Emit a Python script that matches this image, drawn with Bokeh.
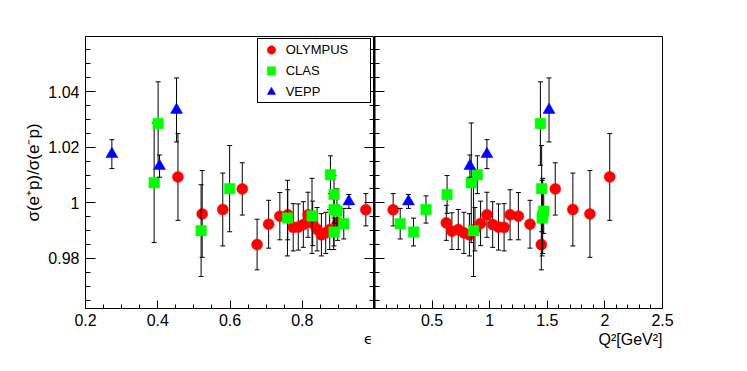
import numpy as np
from bokeh.plotting import figure
from bokeh.layouts import row
from bokeh.models import (ColumnDataSource, FixedTicker, LinearAxis, Range1d,
                          Legend, LegendItem, Title)
from bokeh.embed import file_html
from bokeh.resources import INLINE

# ---------------- data ----------------
oly_q2 = [0.162, 0.623, 0.672, 0.727, 0.776, 0.824, 0.872, 0.921, 0.976, 1.026,
          1.076, 1.125, 1.177, 1.249, 1.350, 1.448, 1.569, 1.722, 1.870, 2.042]
oly_eps = [0.976, 0.898, 0.887, 0.876, 0.865, 0.853, 0.841, 0.829, 0.816, 0.803,
           0.789, 0.775, 0.760, 0.738, 0.707, 0.675, 0.634, 0.580, 0.523, 0.456]
oly_r = [0.9975, 0.9928, 0.9898, 0.9904, 0.9892, 0.9885, 0.9905, 0.9926, 0.9957, 0.9922,
         0.9913, 0.9912, 0.9957, 0.9952, 0.9923, 0.9850, 1.0050, 0.9976, 0.9960, 1.0093]
oly_err = [0.0058, 0.0063, 0.0066, 0.0072, 0.0074, 0.0076, 0.0078, 0.0080, 0.0081, 0.0082,
           0.0083, 0.0085, 0.0090, 0.0085, 0.0086, 0.0091, 0.0094, 0.0131, 0.0156, 0.0156]

clas_eps = [0.390, 0.401, 0.520, 0.599, 0.759, 0.827, 0.878, 0.888, 0.888, 0.896, 0.888, 0.915]
clas_q2 = [0.840, 1.440, 0.860, 1.451, 1.455, 1.460, 0.893, 0.630, 0.447, 1.469, 0.339, 0.223]
clas_r = [1.0072, 1.0285, 0.9900, 1.0051, 0.9945, 0.9953, 1.0101, 1.0030, 0.9976, 0.9970, 0.9895, 0.9925]
clas_err = [0.0215, 0.0150, 0.0165, 0.0155, 0.0136, 0.0135, 0.0068, 0.0068, 0.0049, 0.0080, 0.0050, 0.0055]

vepp_eps = [0.273, 0.405, 0.452, 0.929]
vepp_q2 = [0.976, 0.828, 1.515, 0.295]
vepp_r = [1.0175, 1.0132, 1.0334, 1.0005]
vepp_err = [0.0052, 0.0040, 0.0115, 0.0025]

y_major = [0.98, 1.0, 1.02, 1.04]
y_minor = [round(v, 3) for v in np.arange(0.965, 1.0601, 0.005)]
eps_major = [0.2, 0.4, 0.6, 0.8]
eps_minor = [round(v, 3) for v in np.arange(0.2, 1.0001, 0.05)]
q2_major = [0.5, 1.0, 1.5, 2.0, 2.5]
q2_minor = [round(v, 3) for v in np.arange(0.0, 2.5001, 0.1)]

FONT = "Liberation Sans"
series = [
    ("OLYMPUS", "#ff0000", "circle", 11, oly_eps, oly_q2, oly_r, oly_err),
    ("CLAS", "#00ff00", "square", 10.5, clas_eps, clas_q2, clas_r, clas_err),
    ("VEPP", "#0000ff", "triangle", 12, vepp_eps, vepp_q2, vepp_r, vepp_err),
]

Y0, Y1 = 0.962, 1.0598


def style_y(ax, labels):
    ax.ticker = FixedTicker(ticks=y_major, minor_ticks=y_minor)
    ax.major_tick_in = 10
    ax.major_tick_out = 0
    ax.minor_tick_in = 5
    ax.minor_tick_out = 0
    ax.axis_line_color = "black"
    ax.major_tick_line_color = "black"
    ax.minor_tick_line_color = "black"
    if labels:
        ax.major_label_overrides = {0.98: "0.98", 1.0: "1", 1.02: "1.02", 1.04: "1.04"}
        ax.major_label_text_font = FONT
        ax.major_label_text_font_size = "16px"
        ax.major_label_text_color = "black"
        ax.major_label_standoff = 6
    else:
        ax.major_label_overrides = {v: "" for v in y_major}
        ax.major_label_text_font_size = "0px"
        ax.major_label_standoff = 0


def style_x(ax, major, minor, overrides):
    ax.ticker = FixedTicker(ticks=major, minor_ticks=minor)
    ax.major_tick_in = 8
    ax.major_tick_out = 0
    ax.minor_tick_in = 4
    ax.minor_tick_out = 0
    ax.axis_line_color = "black"
    ax.major_tick_line_color = "black"
    ax.minor_tick_line_color = "black"
    ax.major_label_overrides = overrides
    ax.major_label_text_font = FONT
    ax.major_label_text_font_size = "16px"
    ax.major_label_text_color = "black"
    ax.major_label_standoff = 5


def make_fig(xr, width, bl, br):
    p = figure(width=width, height=363, x_range=xr, y_range=Range1d(Y0, Y1),
               output_backend="svg", toolbar_location=None,
               min_border_left=bl, min_border_right=br, min_border_top=36, min_border_bottom=55)
    p.xgrid.visible = False
    p.ygrid.visible = False
    p.outline_line_color = "black"
    p.outline_line_width = 1
    p.outline_line_alpha = 1
    p.background_fill_color = "white"
    p.border_fill_color = "white"
    return p


p1 = make_fig(Range1d(0.2, 1.0), 374, 85, 0)
p2 = make_fig(Range1d(0.0, 2.5), 365, 0, 77)

style_x(p1.xaxis[0], eps_major, eps_minor, {})
style_x(p2.xaxis[0], q2_major, q2_minor, {1.0: "1", 2.0: "2"})

# x-axis titles, right-aligned at the end of each axis (as in ROOT)
p1.add_layout(Title(text="\u03f5", align="right", offset=2, standoff=0,
                    text_font="DejaVu Sans", text_font_size="14px",
                    text_font_style="normal", text_color="black"), "below")
p2.add_layout(Title(text="Q\u00b2[GeV\u00b2]", align="right", offset=0, standoff=0,
                    text_font=FONT, text_font_size="16px",
                    text_font_style="normal", text_color="black"), "below")

style_y(p1.yaxis[0], True)
p1.yaxis[0].axis_label = "\u03c3(e\u207ap)/\u03c3(e\u207bp)"
p1.yaxis[0].axis_label_text_font = FONT
p1.yaxis[0].axis_label_text_font_size = "17px"
p1.yaxis[0].axis_label_text_font_style = "normal"
p1.yaxis[0].axis_label_text_color = "black"
p1.yaxis[0].axis_label_standoff = 2

rax = LinearAxis()
style_y(rax, False)
p1.add_layout(rax, "right")

style_y(p2.yaxis[0], False)
p2.yaxis[0].axis_line_width = 2

legend_items = []
for name, color, marker, size, eps, q2, r, err in series:
    r_arr = np.array(r)
    e_arr = np.array(err)
    for p, xs in ((p1, eps), (p2, q2)):
        src = ColumnDataSource(dict(x=list(xs), y=list(r_arr), lo=list(r_arr - e_arr),
                                    hi=list(r_arr + e_arr)))
        p.segment(x0="x", y0="lo", x1="x", y1="hi", source=src, line_color="black", line_width=1)
        p.scatter(x="x", y="lo", source=src, marker="dash", size=5, line_color="black", line_width=1)
        p.scatter(x="x", y="hi", source=src, marker="dash", size=5, line_color="black", line_width=1)
        gr = p.scatter(x="x", y="y", source=src, marker=marker, size=size,
                       fill_color=color, line_color=color, line_width=0.5)
        if p is p1:
            legend_items.append(LegendItem(label=name, renderers=[gr]))

# legend anchored by its lower-left corner, in pixels from the frame's lower-left
legend = Legend(items=legend_items, location=(171.7, 205),
                glyph_width=26, glyph_height=21, label_height=21, spacing=0,
                padding=0, label_standoff=2, label_width=84,
                label_text_font=FONT, label_text_font_size="13px", label_text_color="black",
                border_line_color="black", border_line_width=1, border_line_alpha=1,
                background_fill_color="white", background_fill_alpha=1, margin=0)
p1.add_layout(legend, "center")

layout = row(p1, p2, spacing=0)
open("out.html", "w").write(file_html(layout, INLINE))
